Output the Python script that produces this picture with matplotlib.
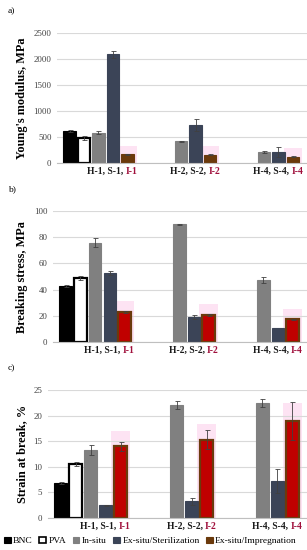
import matplotlib.pyplot as plt
import matplotlib.patches as mpatches
import numpy as np

plt.rcParams['font.family'] = ['Liberation Serif', 'DejaVu Serif']

# Grupos y series
grupos = [('H-1, S-1, ', 'I-1'), ('H-2, S-2, ', 'I-2'), ('H-4, S-4, ', 'I-4')]
series = ['BNC', 'PVA', 'In-situ', 'Ex-situ/Sterilization', 'Ex-situ/Impregnation']

# a) Young's modulus (None = sin barra)
young = [[620, None, None], [480, None, None], [580, 415, 215],
         [2090, 730, 210], [165, 160, 125]]
young_err = [[20, 0, 0], [30, 0, 0], [30, 15, 15], [70, 110, 100], [10, 10, 10]]

# b) Breaking stress
stress = [[42.5, None, None], [49, None, None], [76, 90, 47.5],
          [52.5, 19, 11], [23, 21, 17.5]]
stress_err = [[0.8, 0, 0], [1.5, 0, 0], [3.5, 0.5, 2.5], [1.5, 1.5, 0], [0.5, 0.8, 0.3]]

# c) Strain at break
strain = [[6.9, None, None], [10.5, None, None], [13.3, 22, 22.4],
          [2.5, 3.3, 7.2], [14, 15.3, 19]]
strain_err = [[0.2, 0, 0], [0.4, 0, 0], [0.9, 0.8, 0.8], [0.1, 0.7, 2.3], [0.9, 1.8, 3.7]]

colores = ['black', 'white', '#808080', '#3b4457', '#6b3a0c']
bordes = ['black', 'black', '#808080', '#3b4457', '#6b3a0c']
MARRON = '#6b3a0c'
ROJO = '#c00000'
ROSA_I = '#a0103c'

fig = plt.figure(figsize=(3.07, 5.5), dpi=100)

paneles = [
    ('a)', young, young_err, "Young's modulus, MPa", 2500, 500, [0.186, 0.7036, 0.814, 0.2364], False),
    ('b)', stress, stress_err, 'Breaking stress, MPa', 100, 20, [0.173, 0.378, 0.827, 0.2382], True),
    ('c)', strain, strain_err, 'Strain at break, %', 25, 5, [0.156, 0.0582, 0.844, 0.2327], True),
]

slot = 0.175
ancho = 0.15
x = np.arange(len(grupos))

for letra, datos, errores, etiqueta, ymax, paso, pos, rojo in paneles:
    ax = fig.add_axes(pos)
    for s in range(len(series)):
        off = (s - 2) * slot
        for g in range(len(grupos)):
            v = datos[s][g]
            if v is None:
                continue
            fc = colores[s]
            ec = bordes[s]
            lw = 0.8
            if s == 1:
                lw = 1.6
            if s == 4:
                # resaltado rosa detras de la barra
                alto = v * 1.1 + 0.06 * ymax
                ax.add_patch(mpatches.Rectangle((x[g] + off - 0.11, 0), 0.22, alto,
                                                color='#fde3f3', zorder=0.5, lw=0))
                if rojo:
                    fc = ROJO
                    ec = MARRON
                    lw = 1.6
            ax.bar(x[g] + off, v, ancho, color=fc, edgecolor=ec, linewidth=lw, zorder=2)
            if errores[s][g] > 0:
                ax.errorbar(x[g] + off, v, yerr=errores[s][g], fmt='none',
                            ecolor='#404040', elinewidth=0.6, capsize=1.8,
                            capthick=0.6, zorder=3)

    ax.set_xlim(-0.5, 2.52)
    ax.set_ylim(0, ymax)
    ax.set_yticks(np.arange(0, ymax + paso, paso))
    ax.tick_params(axis='y', length=0, labelsize=6.3, labelcolor='#404040', pad=4)
    ax.set_xticks([])
    ax.grid(axis='y', color='#d9d9d9', linewidth=0.8, zorder=0)
    ax.set_axisbelow(True)
    for lado in ['top', 'right', 'left']:
        ax.spines[lado].set_visible(False)
    ax.spines['bottom'].set_color('#bfbfbf')
    ax.spines['bottom'].set_zorder(4)
    ax.set_ylabel(etiqueta, fontsize=8.8, fontweight='bold', labelpad=4)

    # etiquetas de grupo en dos colores
    for g, (parte1, parte2) in enumerate(grupos):
        ax.annotate(parte1, (x[g] + 0.33, 0), xytext=(0, -3), textcoords='offset points',
                    ha='right', va='top', fontsize=6.9, fontweight='bold', color='#1a1a1a',
                    annotation_clip=False)
        ax.annotate(parte2, (x[g] + 0.33, 0), xytext=(0, -3), textcoords='offset points',
                    ha='left', va='top', fontsize=6.9, fontweight='bold', color=ROSA_I,
                    annotation_clip=False)

    # letra del panel
    fig.text(0.025, pos[1] + pos[3] + 0.04, letra, fontsize=6.8, va='center')

# Leyenda
handles = []
for s, nombre in enumerate(series):
    fc = colores[s]
    ec = bordes[s]
    if s == 4:
        fc = MARRON
    handles.append(mpatches.Patch(facecolor=fc, edgecolor=ec, linewidth=0.8 if s != 1 else 1.2,
                                  label=nombre))
fig.legend(handles=handles, loc='center', bbox_to_anchor=(0.49, 0.0164), ncol=5,
           frameon=False, fontsize=6.8, handlelength=0.7, handleheight=0.7,
           handletextpad=0.25, columnspacing=0.7, borderaxespad=0)

fig.savefig('out.png', dpi=100)
